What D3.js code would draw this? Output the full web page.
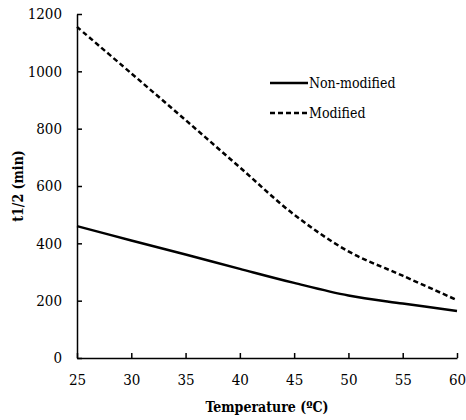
<!DOCTYPE html>
<html>
<head>
<meta charset="utf-8">
<script src="https://cdn.jsdelivr.net/npm/d3@7"></script>
<style>
  body { margin: 0; background: #fff; }
  svg text { font-family: "DejaVu Serif Condensed", "DejaVu Serif", serif !important; font-stretch: condensed; fill: #000; }
</style>
</head>
<body>
<div id="chart"></div>
<script>
"use strict"

// Half-life vs temperature

var temps = [25, 30, 35, 40, 45, 50, 55, 60]
var nonModified = [460, 410, 361, 311, 262, 218, 190, 164]
var modified = [1155, 993, 830, 665, 500, 372, 287, 202]
var seriesNames = ["Non-modified", "Modified"]
var xTicks = [25, 30, 35, 40, 45, 50, 55, 60]
var yTicks = [0, 200, 400, 600, 800, 1000, 1200]

var width = 466
var height = 420
var margin = {top: 14, right: 9, bottom: 62, left: 77}

var x = d3.scaleLinear()
  .domain([25, 60])
  .range([margin.left, width - margin.right])

var y = d3.scaleLinear()
  .domain([0, 1200])
  .range([height - margin.bottom, margin.top])

var svg = d3.select("#chart").append("svg")
  .attr("width", width)
  .attr("height", height)

var xAxis = svg.append("g")
  .attr("transform", "translate(0," + y(0) + ")")
  .call(d3.axisBottom(x).tickValues(xTicks).tickFormat(d3.format("d"))
    .tickSizeInner(-5).tickSizeOuter(0).tickPadding(16))
var yAxis = svg.append("g")
  .attr("transform", "translate(" + x(25) + ",0)")
  .call(d3.axisLeft(y).tickValues(yTicks).tickFormat(d3.format("d"))
    .tickSizeInner(-5).tickSizeOuter(0).tickPadding(15))

;[xAxis, yAxis].forEach(function(g) {
  g.attr("font-family", null)
  g.select(".domain").attr("stroke", "#000").attr("stroke-width", 1.5)
  g.selectAll(".tick line").attr("stroke", "#000").attr("stroke-width", 1.5)
  g.selectAll(".tick text").style("font-size", "15px")
})

svg.append("text")
  .attr("x", (x(25) + x(60)) / 2)
  .attr("y", 412)
  .attr("text-anchor", "middle")
  .style("font-size", "14px")
  .style("font-weight", "bold")
  .text("Temperature (ºC)")

svg.append("text")
  .attr("transform", "translate(23," + ((y(0) + y(1200)) / 2) + ") rotate(-90)")
  .attr("text-anchor", "middle")
  .style("font-size", "14px")
  .style("font-weight", "bold")
  .text("t1/2 (min)")

var line = d3.line()
  .x(function(d) { return x(d[0]) })
  .y(function(d) { return y(d[1]) })
  .curve(d3.curveCatmullRom.alpha(0.5))

var series = [nonModified, modified].map(function(vals) {
  return temps.map(function(t, i) { return [t, vals[i]] })
})
var dashes = [null, "5,3"]

series.forEach(function(s, i) {
  svg.append("path")
    .datum(s)
    .attr("fill", "none")
    .attr("stroke", "#000")
    .attr("stroke-width", 2.5)
    .attr("stroke-dasharray", dashes[i])
    .attr("d", line)
})

var leg = svg.append("g")
  .selectAll("g")
  .data(seriesNames)
  .enter().append("g")
  .attr("transform", function(d, i) { return "translate(270," + (83 + i * 30) + ")" })
leg.append("line")
  .attr("x1", 0)
  .attr("x2", 38)
  .attr("stroke", "#000")
  .attr("stroke-width", 2.5)
  .attr("stroke-dasharray", function(d, i) { return dashes[i] })
leg.append("text")
  .attr("x", 39)
  .attr("dy", 5)
  .style("font-size", "14px")
  .text(function(d) { return d })
</script>
</body>
</html>
